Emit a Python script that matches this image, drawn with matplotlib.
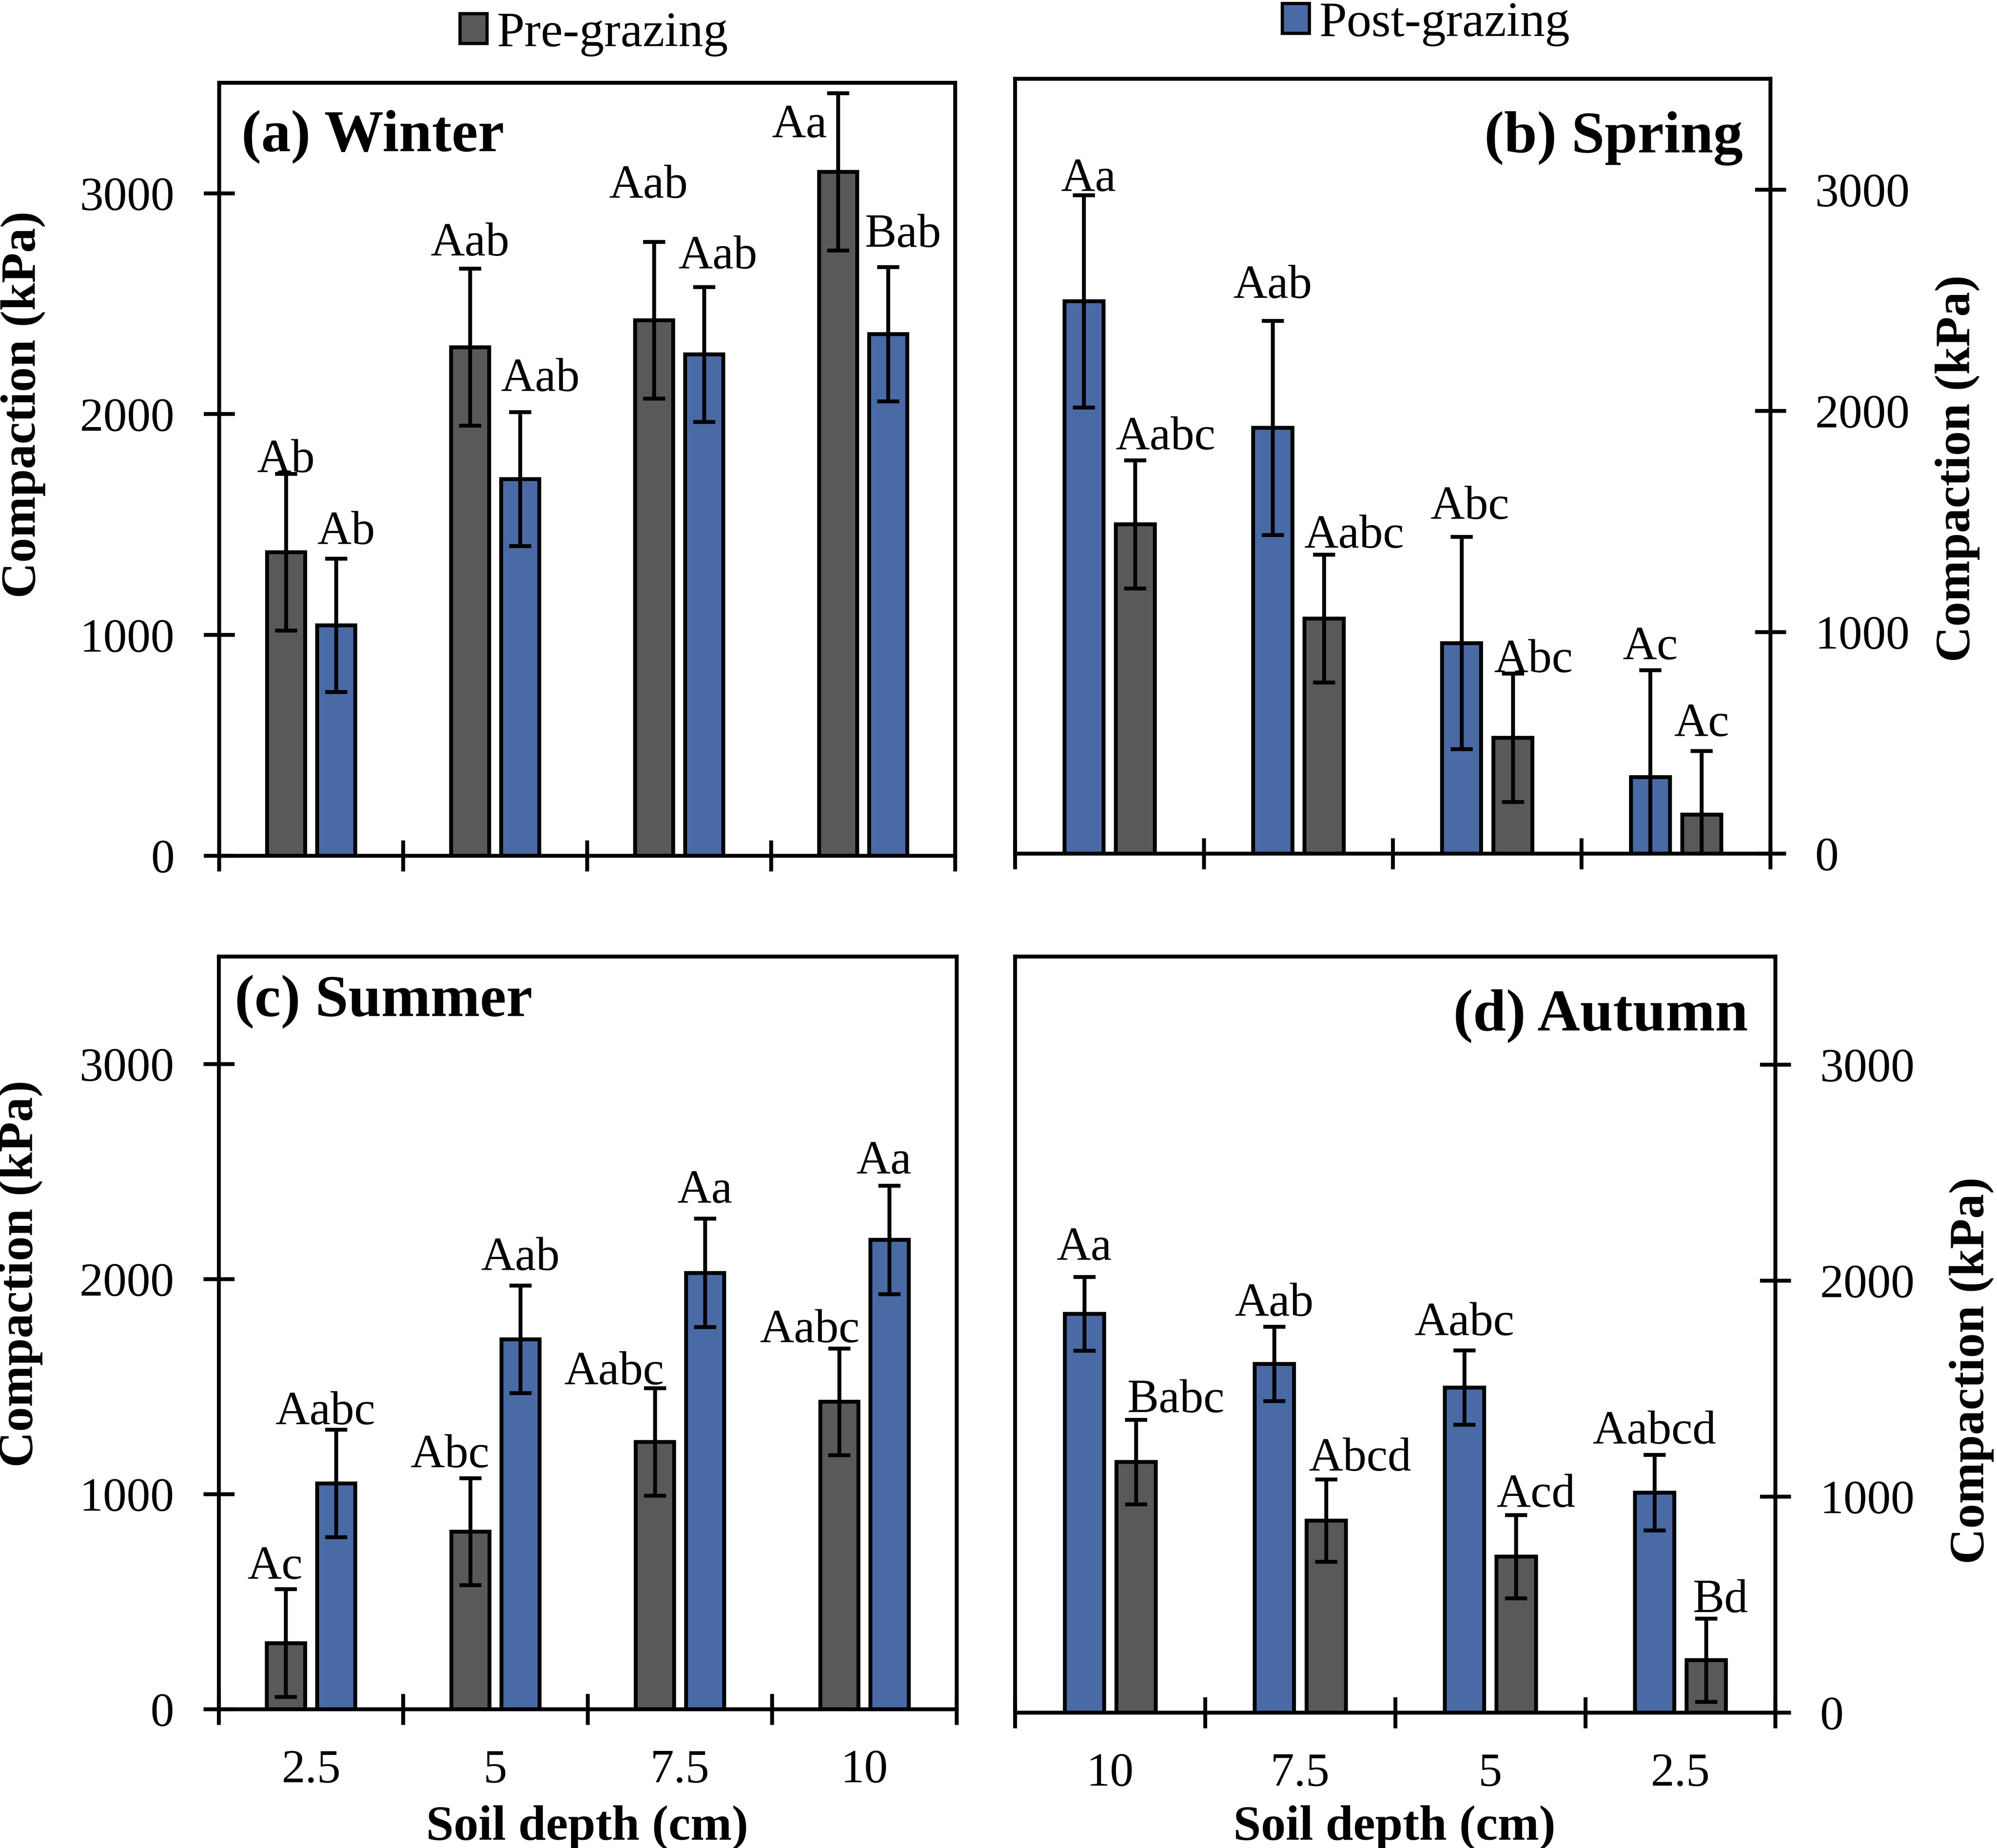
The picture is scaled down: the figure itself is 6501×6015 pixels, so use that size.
import numpy as np
import matplotlib.pyplot as plt
from matplotlib.patches import Patch

# compaction values (kPa), mean and error bar
winter_depth = ['2.5', '5', '7.5', '10']
winter_pre = [1375, 2303, 2425, 3097]
winter_pre_err = [355, 355, 355, 356]
winter_post = [1044, 1706, 2270, 2362]
winter_post_err = [302, 303, 305, 304]
winter_pre_lbl = ['Ab', 'Aab', 'Aab', 'Aa']
winter_post_lbl = ['Ab', 'Aab', 'Aab', 'Bab']

spring_depth = ['10', '7.5', '5', '2.5']
spring_post = [2495, 1923, 951, 345]
spring_post_err = [480, 484, 480, 483]
spring_pre = [1487, 1061, 523, 175]
spring_pre_err = [290, 289, 290, 288]
spring_post_lbl = ['Aa', 'Aab', 'Abc', 'Ac']
spring_pre_lbl = ['Aabc', 'Aabc', 'Abc', 'Ac']

summer_depth = ['2.5', '5', '7.5', '10']
summer_pre = [308, 826, 1243, 1430]
summer_pre_err = [251, 248, 250, 248]
summer_post = [1050, 1721, 2029, 2183]
summer_post_err = [250, 250, 252, 252]
summer_pre_lbl = ['Ac', 'Abc', 'Aabc', 'Aabc']
summer_post_lbl = ['Aabc', 'Aab', 'Aa', 'Aa']

autumn_depth = ['10', '7.5', '5', '2.5']
autumn_post = [1846, 1614, 1505, 1018]
autumn_post_err = [171, 172, 172, 175]
autumn_pre = [1160, 889, 722, 243]
autumn_pre_err = [195, 191, 193, 193]
autumn_post_lbl = ['Aa', 'Aab', 'Aabc', 'Aabcd']
autumn_pre_lbl = ['Babc', 'Abcd', 'Acd', 'Bd']

PRE_COL = '#595959'
POST_COL = '#4A6AA5'
LW = 1.8

plt.rcParams['font.family'] = ['Liberation Serif', 'DejaVu Serif']

# sizes in points are for a 7724x7147 px canvas at 600 dpi; saved at a lower
# dpi (same proportions) so the png stays under the viewer's pixel limit
fig = plt.figure(figsize=(7724 / 600, 7147 / 600))


# one panel: two bar series, left one at -off, right one at +off
def draw_panel(ax, depth, series, title, title_pos, right_axis, show_xlabels):
    x = np.arange(1, len(depth) + 1)
    width = 0.207
    off = 0.136
    for k, (vals, err, col, lbls, dxs, ys) in enumerate(series):
        xs = x - off if k == 0 else x + off
        ax.bar(xs, vals, width, color=col, edgecolor='black', linewidth=LW,
               yerr=err, zorder=2,
               error_kw=dict(ecolor='black', elinewidth=LW, capsize=5.2,
                             capthick=LW, zorder=3))
        for xi, s, dx, yy in zip(xs, lbls, dxs, ys):
            ax.text(xi + dx, yy, s, ha='center', va='baseline', fontsize=22)

    ax.set_xlim(0.5, len(depth) + 0.5)
    ax.set_ylim(0, 3500)
    ax.set_yticks([0, 1000, 2000, 3000])
    ax.set_xticks(np.arange(0.5, len(depth) + 1, 1.0))
    ax.set_xticklabels([])
    ax.set_xticks(x, minor=True)
    if show_xlabels:
        ax.set_xticklabels(depth, minor=True)
    for sp in ax.spines.values():
        sp.set_linewidth(LW)
    ax.tick_params(axis='both', which='major', direction='inout', length=14.4,
                   width=LW, labelsize=22)
    ax.tick_params(axis='y', pad=13.5)
    ax.tick_params(axis='x', which='minor', length=0, pad=18.5, labelsize=22)
    if right_axis:
        ax.yaxis.tick_right()
        ax.text(title_pos[0], title_pos[1], title, transform=ax.transAxes,
                ha='right', va='baseline', fontsize=27.5, fontweight='bold')
    else:
        ax.text(title_pos[0], title_pos[1], title, transform=ax.transAxes,
                ha='left', va='baseline', fontsize=27.5, fontweight='bold')


ax_a = fig.add_axes([0.1097, 0.5369, 0.3686, 0.4183])
draw_panel(ax_a, winter_depth,
           [(winter_pre, winter_pre_err, PRE_COL, winter_pre_lbl,
             [0, 0, -0.03, -0.21], [1739, 2719, 2980, 3254]),
            (winter_post, winter_post_err, POST_COL, winter_post_lbl,
             [0.054, 0.11, 0.075, 0.08], [1413, 2105, 2661, 2758])],
           '(a) Winter', (0.0306, 0.9115), False, False)

ax_b = fig.add_axes([0.5083, 0.5382, 0.3782, 0.4191])
draw_panel(ax_b, spring_depth,
           [(spring_post, spring_post_err, POST_COL, spring_post_lbl,
             [0.024, 0, 0.045, 0], [2995, 2512, 1513, 878]),
            (spring_pre, spring_pre_err, PRE_COL, spring_pre_lbl,
             [0.16, 0.16, 0.11, 0], [1827, 1383, 821, 531])],
           '(b) Spring', (0.9636, 0.905), True, False)

ax_c = fig.add_axes([0.1095, 0.0751, 0.3695, 0.4073])
draw_panel(ax_c, summer_depth,
           [(summer_pre, summer_pre_err, PRE_COL, summer_pre_lbl,
             [-0.058, -0.11, -0.22, -0.16], [608, 1126, 1512, 1708]),
            (summer_post, summer_post_err, POST_COL, summer_post_lbl,
             [-0.058, 0, 0, -0.03], [1327, 2044, 2357, 2492])],
           '(c) Summer', (0.0216, 0.921), False, True)

ax_d = fig.add_axes([0.5083, 0.0733, 0.3807, 0.4091])
draw_panel(ax_d, autumn_depth,
           [(autumn_post, autumn_post_err, POST_COL, autumn_post_lbl,
             [0, 0, 0, 0], [2097, 1838, 1748, 1247]),
            (autumn_pre, autumn_pre_err, PRE_COL, autumn_pre_lbl,
             [0.21, 0.18, 0.105, 0.075], [1392, 1121, 954, 466])],
           '(d) Autumn', (0.964, 0.9025), True, True)

# axis titles
for xx, yy in [(0.0115, 0.781), (0.9802, 0.7464), (0.0102, 0.3108), (0.9872, 0.2584)]:
    fig.text(xx, yy, 'Compaction (kPa)', rotation=90, ha='center', va='center',
             fontsize=23, fontweight='bold')
for xx in [0.294, 0.6983]:
    fig.text(xx, 0.011, 'Soil depth (cm)', ha='center', va='center',
             fontsize=23, fontweight='bold')

# legends, one above each column
fig.legend(handles=[Patch(facecolor=PRE_COL, edgecolor='black', linewidth=1.5,
                          label='Pre-grazing')],
           loc='center left', bbox_to_anchor=(0.2302, 0.9815), frameon=False,
           fontsize=23, handlelength=0.55, handleheight=0.55,
           handletextpad=0.2, borderpad=0, borderaxespad=0)
fig.legend(handles=[Patch(facecolor=POST_COL, edgecolor='black', linewidth=1.5,
                          label='Post-grazing')],
           loc='center left', bbox_to_anchor=(0.642, 0.987), frameon=False,
           fontsize=23, handlelength=0.55, handleheight=0.55,
           handletextpad=0.2, borderpad=0, borderaxespad=0)

fig.savefig('out.png', dpi=505)
